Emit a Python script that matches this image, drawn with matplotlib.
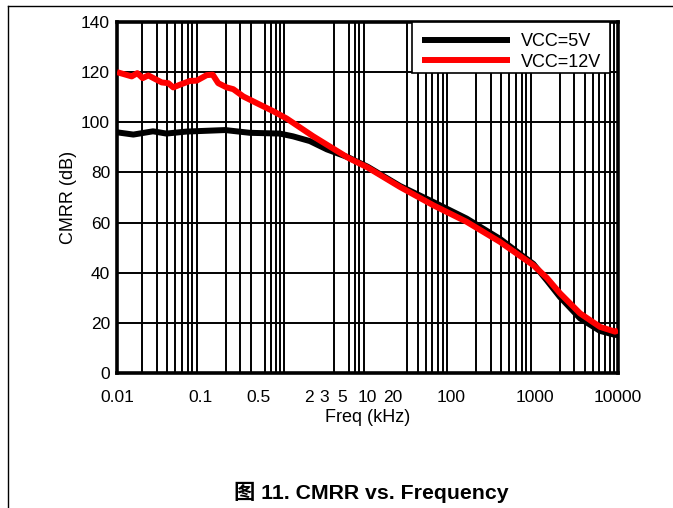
import matplotlib
matplotlib.use("Agg")
import matplotlib.pyplot as plt
from matplotlib.ticker import LogLocator, NullFormatter, FixedLocator, FixedFormatter
from matplotlib.lines import Line2D
from matplotlib.patches import Rectangle

plt.rcParams['font.family'] = ['Liberation Sans', 'Noto Sans CJK SC', 'DejaVu Sans']

# ---- data (frequency in kHz, CMRR in dB) ----
freq_5v = [0.01, 0.0157, 0.027, 0.039, 0.068, 0.197, 0.39, 0.89, 1.28, 2.04, 3.26,
           5.9, 10, 24.5, 61.4, 154, 386, 968, 1400, 2020, 3507, 6080, 9200, 10000]
cmrr_5v = [96.0, 95.1, 96.4, 95.5, 96.3, 96.9, 95.8, 95.5, 94.4, 92.5, 89.2,
           86.0, 82.3, 74.6, 68.2, 61.6, 53.5, 43.5, 37.0, 30.3, 21.8, 16.8, 15.2, 15.2]

freq_12v = [0.01, 0.015, 0.0175, 0.0203, 0.0237, 0.0343, 0.0411, 0.0472, 0.0568, 0.0749,
            0.090, 0.1186, 0.140, 0.163, 0.206, 0.247, 0.326, 0.516, 0.745, 1.077, 2.24,
            5.89, 10, 24.5, 61.4, 154, 386, 968, 1400, 2020, 3507, 6080, 9200, 10000]
cmrr_12v = [120.0, 118.3, 119.6, 117.6, 118.7, 115.9, 115.6, 113.9, 115.0, 116.5,
            116.6, 118.8, 119.0, 115.6, 113.9, 113.2, 110.3, 107.0, 104.4, 101.5, 94.4,
            85.8, 82.0, 74.2, 66.9, 60.3, 52.3, 43.0, 38.0, 31.8, 23.8, 18.4, 16.5, 17.0]

series_labels = ["VCC=5V", "VCC=12V"]
x_tick_values = [0.01, 0.1, 0.5, 2, 3, 5, 10, 20, 100, 1000, 10000]
x_tick_labels = ["0.01", "0.1", "0.5", "2", "3", "5", "10", "20", "100", "1000", "10000"]
y_tick_values = [0, 20, 40, 60, 80, 100, 120, 140]

W, H = 673, 508
fig = plt.figure(figsize=(W / 100, H / 100), dpi=100)
ax = fig.add_axes([117 / W, 1 - 373 / H, (618 - 117) / W, (373 - 22) / H])

ax.plot(freq_5v, cmrr_5v, color='black', lw=4.3, solid_capstyle='butt', zorder=3,
        label=series_labels[0])
ax.plot(freq_12v, cmrr_12v, color='#ff0000', lw=4.3, solid_capstyle='butt', zorder=4,
        label=series_labels[1])

ax.set_xscale('log')
ax.set_xlim(0.01, 10000)
ax.set_ylim(0, 140)

ax.xaxis.set_major_locator(FixedLocator(x_tick_values))
ax.xaxis.set_major_formatter(FixedFormatter(x_tick_labels))
ax.xaxis.set_minor_locator(LogLocator(base=10, subs=list(range(1, 10)), numticks=100))
ax.xaxis.set_minor_formatter(NullFormatter())
ax.set_yticks(y_tick_values)

ax.tick_params(which='both', length=0, labelsize=12.5, colors='black')
ax.tick_params(axis='x', pad=12)
ax.tick_params(axis='y', pad=5)
ax.grid(which='minor', axis='x', color='black', lw=1.4)
ax.grid(which='major', axis='y', color='black', lw=1.4)
ax.set_axisbelow(True)
for s in ax.spines.values():
    s.set_linewidth(2.6)
    s.set_color('black')

ax.set_xlabel("Freq (kHz)", fontsize=13, labelpad=3)
ax.set_ylabel("CMRR (dB)", fontsize=13, labelpad=3)

# legend frame (drawn separately so it can sit flush with the top spine)
frame = Rectangle((412 / W, 1 - 72.5 / H), (610 - 412) / W, (72.5 - 22) / H,
                  transform=fig.transFigure, facecolor='white', edgecolor='black',
                  lw=1.2, zorder=5, clip_on=False)
ax.add_patch(frame)
leg = ax.legend(loc='center', bbox_to_anchor=(511.5 / W, 1 - 52 / H),
                bbox_transform=fig.transFigure, borderaxespad=0, fontsize=13,
                handlelength=4.9, handletextpad=0.6, borderpad=0.0, labelspacing=0.18,
                frameon=False)
leg.set_zorder(6)
for h in leg.get_lines():
    h.set_linewidth(4.3)

# figure frame (top and left rules) and caption
fig.add_artist(Line2D([8 / W, 1], [1 - 6 / H, 1 - 6 / H], color='black', lw=1,
                      transform=fig.transFigure))
fig.add_artist(Line2D([8 / W, 8 / W], [0, 1 - 6 / H], color='black', lw=1,
                      transform=fig.transFigure))
fig.text(371 / W, 1 - 492 / H, "图 11. CMRR vs. Frequency", ha='center', va='center',
         fontsize=15.3, fontweight='bold')

fig.savefig("out.png", dpi=100)
